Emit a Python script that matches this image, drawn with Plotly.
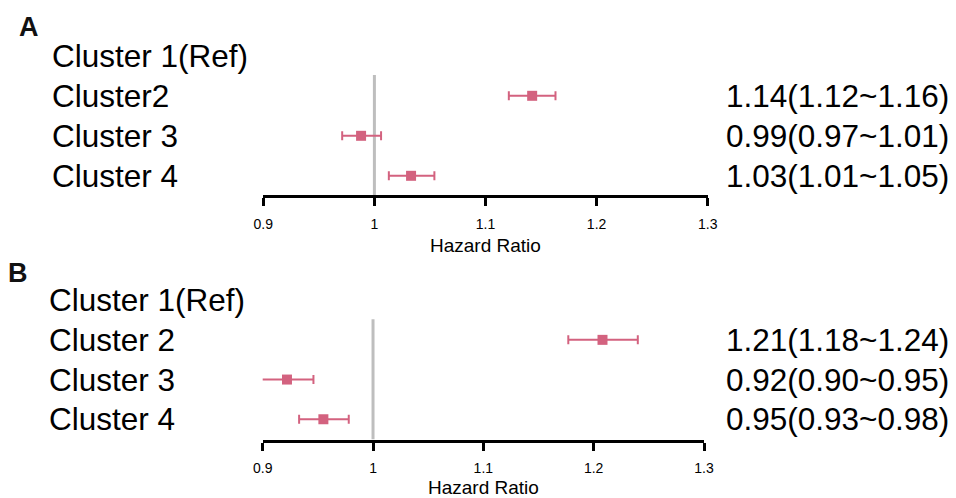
import plotly.graph_objects as go

# ---------------- data ----------------
labels_a = ["Cluster 1(Ref)", "Cluster2", "Cluster 3", "Cluster 4"]
hr_a = [None, 1.142, 0.988, 1.033]
lo_a = [None, 1.121, 0.971, 1.013]
hi_a = [None, 1.163, 1.006, 1.054]
text_a = ["", "1.14(1.12~1.16)", "0.99(0.97~1.01)", "1.03(1.01~1.05)"]

labels_b = ["Cluster 1(Ref)", "Cluster 2", "Cluster 3", "Cluster 4"]
hr_b = [None, 1.208, 0.922, 0.955]
lo_b = [None, 1.177, 0.898, 0.933]
hi_b = [None, 1.240, 0.946, 0.978]
text_b = ["", "1.21(1.18~1.24)", "0.92(0.90~0.95)", "0.95(0.93~0.98)"]

tick_vals = [0.9, 1.0, 1.1, 1.2, 1.3]
tick_text = ["0.9", "1", "1.1", "1.2", "1.3"]
x_title = "Hazard Ratio"
panel_letters = ["A", "B"]

# ---------------- style ----------------
OFF = 8                      # default page body margin of the exported html
W, H = 956 - OFF, 498 - OFF  # figure size so that it fits in the window
FONT = "Arial, Liberation Sans, Helvetica, sans-serif"
PINK = "#D3627F"
GREY = "#BEBEBE"
LABEL_SIZE = 31.5


def px(sx):   # screen x -> paper x
    return (sx - OFF) / W


def py(sy):   # screen y -> paper y
    return 1 - (sy - OFF) / H


fig = go.Figure()

panels = [
    dict(labels=labels_a, hr=hr_a, lo=lo_a, hi=hi_a, text=text_a,
         xd=(263.3, 707.7), ybot=195.0, yr=(0.52, 4.6), row=40.0,
         label_x=49.5, num_x=951, letter=(28.5, 26.5), title_y=245.5, xa="x", ya="y"),
    dict(labels=labels_b, hr=hr_b, lo=lo_b, hi=hi_b, text=text_b,
         xd=(262.7, 704.0), ybot=439.5, yr=(0.49, 4.6), row=39.7,
         label_x=46.5, num_x=951, letter=(18.0, 272.5), title_y=487.5, xa="x2", ya="y2"),
]

annotations = []
shapes = []
for i, p in enumerate(panels):
    n = len(p["labels"])
    ypos = [n - k for k in range(n)]
    eplus = [None if v is None else h - v for v, h in zip(p["hr"], p["hi"])]
    eminus = [None if v is None else v - l for v, l in zip(p["hr"], p["lo"])]
    fig.add_trace(go.Scatter(
        x=p["hr"], y=ypos, mode="markers",
        marker=dict(symbol="square", size=10, color=PINK),
        error_x=dict(type="data", symmetric=False, array=eplus, arrayminus=eminus,
                     color=PINK, thickness=2, width=4.5),
        cliponaxis=False, showlegend=False, hoverinfo="skip",
        xaxis=p["xa"], yaxis=p["ya"],
    ))
    height_px = (p["yr"][1] - p["yr"][0]) * p["row"]
    ytop = p["ybot"] - height_px
    axname = "xaxis" if i == 0 else "xaxis2"
    ayname = "yaxis" if i == 0 else "yaxis2"
    fig.layout[axname] = dict(
        domain=[px(p["xd"][0]), px(p["xd"][1])], range=[0.9, 1.3], anchor=p["ya"],
        automargin=False,
        tickvals=tick_vals, ticktext=tick_text,
        showline=True, linewidth=3, linecolor="black",
        ticks="outside", ticklen=8, tickwidth=3, tickcolor="black",
        showgrid=False, zeroline=False,
        tickfont=dict(family=FONT, size=14, color="black"),
        ticklabelstandoff=6,
    )
    fig.layout[ayname] = dict(
        domain=[py(p["ybot"]), py(ytop)], range=list(p["yr"]), anchor=p["xa"],
        automargin=False, visible=False, showgrid=False, zeroline=False, fixedrange=True,
    )
    # reference line at HR = 1
    shapes.append(dict(type="line", xref=p["xa"], yref=p["ya"], x0=1, x1=1,
                       y0=p["yr"][0], y1=3.52, line=dict(color=GREY, width=3),
                       layer="below"))
    for lab, txt, y in zip(p["labels"], p["text"], ypos):
        annotations.append(dict(text=lab, xref="paper", yref=p["ya"],
                                x=px(p["label_x"]), y=y, xanchor="left", yanchor="middle",
                                showarrow=False, font=dict(family=FONT, size=LABEL_SIZE, color="black")))
        if txt:
            annotations.append(dict(text=txt, xref="paper", yref=p["ya"],
                                    x=px(p["num_x"]), y=y, xanchor="right", yanchor="middle",
                                    showarrow=False, font=dict(family=FONT, size=LABEL_SIZE, color="black")))
    # axis title
    annotations.append(dict(text=x_title, xref=p["xa"] + " domain", yref="paper",
                            x=0.5, y=py(p["title_y"]), xanchor="center", yanchor="middle",
                            showarrow=False, font=dict(family=FONT, size=19, color="black")))
    annotations.append(dict(text="<b>%s</b>" % panel_letters[i], xref="paper", yref="paper",
                            x=px(p["letter"][0]), y=py(p["letter"][1]),
                            xanchor="center", yanchor="middle", showarrow=False,
                            font=dict(family=FONT, size=27, color="#111111")))

fig.update_layout(
    width=W, height=H, margin=dict(l=0, r=0, t=0, b=0, autoexpand=False),
    paper_bgcolor="white", plot_bgcolor="white",
    annotations=annotations, shapes=shapes, showlegend=False,
)

fig.write_html("out.html")
